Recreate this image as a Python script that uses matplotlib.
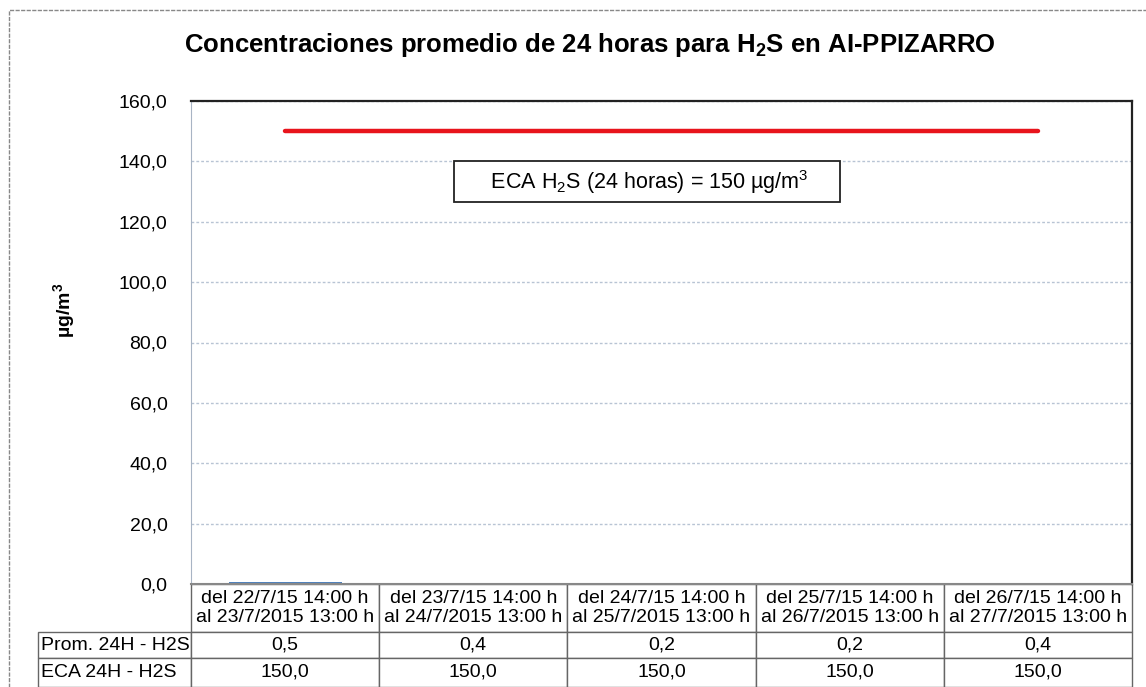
import matplotlib.pyplot as plt
from matplotlib.patches import Rectangle

plt.rcParams['font.family'] = ['Liberation Sans', 'DejaVu Sans']
plt.rcParams['mathtext.fontset'] = 'custom'
plt.rcParams['mathtext.rm'] = 'Liberation Sans'
plt.rcParams['mathtext.bf'] = 'Liberation Sans:bold'

# datos
periodos = ['del 22/7/15 14:00 h\nal 23/7/2015 13:00 h',
            'del 23/7/15 14:00 h\nal 24/7/2015 13:00 h',
            'del 24/7/15 14:00 h\nal 25/7/2015 13:00 h',
            'del 25/7/15 14:00 h\nal 26/7/2015 13:00 h',
            'del 26/7/15 14:00 h\nal 27/7/2015 13:00 h']
prom_h2s = [0.5, 0.4, 0.2, 0.2, 0.4]
eca_h2s = [150.0, 150.0, 150.0, 150.0, 150.0]
filas = ['Prom. 24H - H2S', 'ECA 24H - H2S']
yticks = [0, 20, 40, 60, 80, 100, 120, 140, 160]

fig = plt.figure(figsize=(11.46, 6.87), dpi=100)
ax = fig.add_axes([191/1146, 1-584/687, 941/1146, 483/687])

x = list(range(len(periodos)))
ax.bar(x, prom_h2s, width=0.6, color='#4f81bd', zorder=1)
ax.plot(x, eca_h2s, color='#e8141c', lw=3.2, solid_capstyle='round')

ax.set_xlim(-0.5, len(periodos) - 0.5)
ax.set_ylim(0, 160)
ax.set_yticks(yticks)
ax.set_yticklabels([f'{v:.1f}'.replace('.', ',') for v in yticks], fontsize=14)
ax.tick_params(axis='y', length=0, pad=17)
ax.set_xticks([])
ax.yaxis.grid(True, color='#b8c4d4', lw=1, ls=(0, (2, 1.5)))
ax.set_axisbelow(True)
ax.spines['top'].set_color('#222222')
ax.spines['right'].set_color('#222222')
ax.spines['top'].set_linewidth(1.6)
ax.spines['right'].set_linewidth(1.6)
ax.spines['left'].set_color('#a8b4c4')
ax.spines['bottom'].set_color('#888888')
ax.spines['bottom'].set_linewidth(1.5)

ax.set_ylabel('µg/m$^\\mathbf{3}$', fontsize=14, fontweight='bold')
ax.yaxis.set_label_coords(-0.120, 0.567)

ax.text(1.923, 133.3, '     ECA H$_2$S (24 horas) = 150 µg/m$^3$     ', fontsize=15.5,
        ha='center', va='center',
        bbox=dict(boxstyle='square,pad=0.3', fc='white', ec='#222222', lw=1.3))

fig.text(590/1146, 1-45/687, 'Concentraciones promedio de 24 horas para H$_\\mathbf{2}$S en AI-PPIZARRO',
         fontsize=18.5, fontweight='bold', ha='center', va='center')

# tabla de datos (bbox = area de celdas de datos; la columna de filas queda a la izquierda)
celdas = [[f'{v:.1f}'.replace('.', ',') for v in prom_h2s],
          [f'{v:.1f}'.replace('.', ',') for v in eca_h2s]]
lw_row = 153/941
tab = ax.table(cellText=celdas, rowLabels=filas, colLabels=periodos,
               colWidths=[0.2]*5, cellLoc='center',
               rowLoc='left', bbox=[0, -103/483, 1, 103/483])
tab._autoColumns.clear()
tab.auto_set_font_size(False)
alturas = {0: 48, 1: 26, 2: 29}
for (r, c), cell in tab.get_celld().items():
    cell.set_height(alturas[r])
    cell.set_edgecolor('#666666')
    cell.set_linewidth(1.0)
    cell.get_text().set_fontsize(14)
    if c == -1:
        cell.set_width(lw_row)
        cell.PAD = 0.02

# marco de la figura
fig.add_artist(Rectangle((9/1146, -0.01), 1.2, 1 - 10/687 + 0.01, transform=fig.transFigure,
                         fill=False, ec='#888888', lw=1.0, ls=(0, (3, 1))))

fig.savefig('out.png', dpi=100)
